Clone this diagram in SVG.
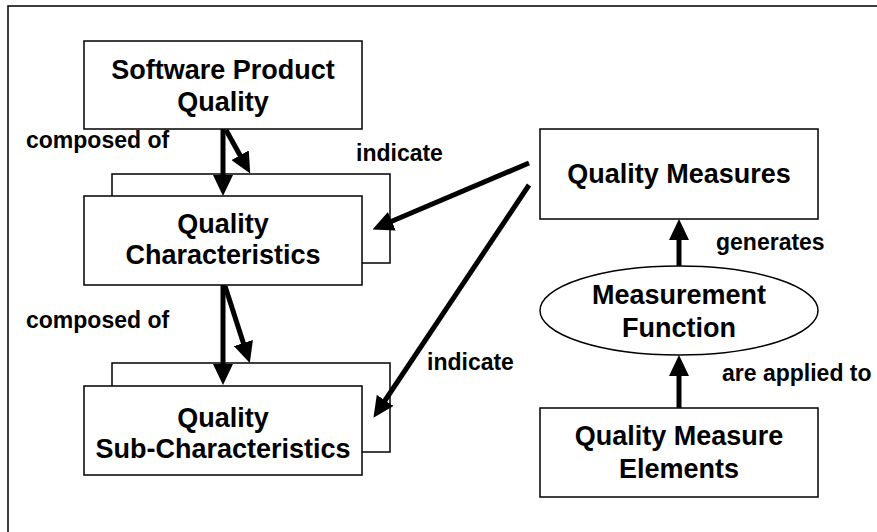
<svg xmlns="http://www.w3.org/2000/svg" width="877" height="532" viewBox="0 0 877 532">
<style>
.box{fill:#fff;stroke:#000;stroke-width:1.5}
.nl{font-family:"Liberation Sans",Arial,sans-serif;font-weight:bold;font-size:27px;fill:#000;text-anchor:middle}
.el{font-family:"Liberation Sans",Arial,sans-serif;font-weight:bold;font-size:23px;fill:#000}
.arr{stroke:#000;stroke-width:5;fill:none;marker-end:url(#ah)}
</style>
<defs>
<marker id="ah" markerUnits="userSpaceOnUse" markerWidth="21" markerHeight="20" refX="2" refY="10" orient="auto" viewBox="0 0 21 20">
<path d="M0,0 L21,10 L0,20 z" fill="#000"/>
</marker>
</defs>
<rect x="0" y="0" width="877" height="532" fill="#fff"/>
<path d="M8,532 V6 H877" fill="none" stroke="#000" stroke-width="1.5"/>

<g id="spq">
<rect class="box" x="84" y="41" width="278" height="88"/>
<text class="nl" x="223" y="79">Software Product</text>
<text class="nl" x="223" y="111">Quality</text>
</g>
<g id="qc">
<rect class="box" x="112" y="174" width="278" height="89"/>
<rect class="box" x="84" y="196" width="278" height="89"/>
<text class="nl" x="223" y="233">Quality</text>
<text class="nl" x="223" y="264">Characteristics</text>
</g>
<g id="qsc">
<rect class="box" x="112" y="363" width="278" height="89"/>
<rect class="box" x="84" y="386" width="278" height="89"/>
<text class="nl" x="223" y="427">Quality</text>
<text class="nl" x="223" y="458">Sub-Characteristics</text>
</g>
<g id="qm">
<rect class="box" x="540" y="129" width="278" height="90"/>
<text class="nl" x="679" y="183">Quality Measures</text>
</g>
<g id="mf">
<ellipse class="box" cx="679" cy="310.5" rx="139" ry="44.5"/>
<text class="nl" x="679" y="304">Measurement</text>
<text class="nl" x="679" y="337">Function</text>
</g>
<g id="qme">
<rect class="box" x="540" y="408" width="278" height="89"/>
<text class="nl" x="679" y="445">Quality Measure</text>
<text class="nl" x="679" y="478">Elements</text>
</g>

<g id="connectors">
<line class="arr" x1="223" y1="129" x2="223" y2="177"/>
<line class="arr" x1="226" y1="130" x2="241" y2="157"/>
<line class="arr" x1="223" y1="285" x2="223" y2="366"/>
<line class="arr" x1="225" y1="286" x2="244" y2="345"/>
<line class="arr" x1="529" y1="163" x2="390" y2="222"/>
<line class="arr" x1="529" y1="185" x2="384" y2="402"/>
<line class="arr" x1="679" y1="266" x2="679" y2="238"/>
<line class="arr" x1="679" y1="408" x2="679" y2="374"/>
<text class="el" x="26" y="148">composed of</text>
<text class="el" x="26" y="328">composed of</text>
<text class="el" x="356" y="161">indicate</text>
<text class="el" x="427" y="370">indicate</text>
<text class="el" x="716" y="250">generates</text>
<text class="el" x="722" y="381">are applied to</text>
</g>
</svg>
